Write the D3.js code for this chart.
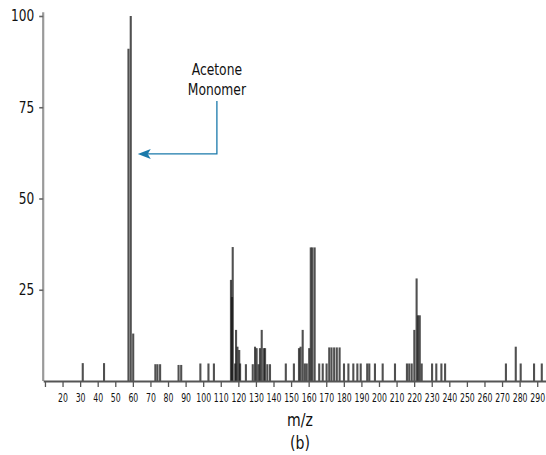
<!DOCTYPE html>
<html>
<head>
<meta charset="utf-8">
<script src="https://cdn.jsdelivr.net/npm/d3@7"></script>
<style>
  body { margin: 0; background: #fff; }
  svg { display: block; }
  text { font-family: "Liberation Sans Narrow", "DejaVu Sans Condensed", "Roboto", sans-serif; fill: #111; }
</style>
</head>
<body>
<svg id="chart" width="546" height="455"></svg>
<script>
// peaks: m/z and relative intensity (%)
var peakMz = [
  31.5, 43.6, 57.5, 58.8, 60.2, 72.8, 74, 75.5, 86, 87.5,
  98.4, 103, 106.1, 115.8, 116.4, 116.8, 118.2, 118.7, 119.5, 120.5, 121,
  124.3, 128.2, 129.5, 130.4, 131.5, 132.3, 133.3, 134.5, 135.2, 136.5, 138,
  147, 151.6, 154.5, 155.4, 156.6, 157.8, 158.9, 160.3, 161.2, 162.1, 163.4,
  166, 168, 170.2, 171.7, 173, 174.5, 176, 177.6,
  180.1, 182.6, 185.4, 187.7, 189.6, 193.3, 194.5, 197.7, 202.1, 209.1,
  215.9, 217.2, 218.6, 220.1, 221.4, 222.2, 223.2, 224.3,
  230.2, 232.6, 235.5, 237.6, 272.2, 277.8, 280.6, 288.2, 292.6
];
var peakIntensity = [
  4.9, 4.9, 91, 100, 13, 4.6, 4.6, 4.6, 4.4, 4.4,
  4.8, 4.8, 4.8, 27.7, 23, 36.7, 4.8, 14, 9.4, 8.5, 4.8,
  4.6, 4.6, 9.4, 9, 4.6, 9, 14, 9, 9, 4.6, 4.6,
  4.8, 4.8, 9, 9.4, 14, 4.8, 4.8, 9, 36.6, 36.6, 36.6,
  4.8, 4.8, 4.8, 9.2, 9.2, 9.2, 9.2, 9.2,
  4.8, 4.8, 4.8, 4.8, 4.8, 4.8, 4.8, 4.8, 4.8, 4.8,
  4.8, 4.8, 4.8, 14, 28.1, 18, 18, 4.8,
  4.8, 4.8, 4.8, 4.8, 4.8, 9.4, 4.8, 4.8, 4.8
];
var xTickValues = d3.range(10, 300, 10);
var yTickValues = [25, 50, 75, 100];
var annotationLines = ["Acetone", "Monomer"];

var svg = d3.select("#chart");

var x = d3.scaleLinear().domain([9, 295]).range([43.2, 546]);
var y = d3.scaleLinear().domain([0, 100]).range([381, 16]);

// y axis line (gray, goes slightly past 100)
svg.append("line")
  .attr("x1", x(9)).attr("x2", x(9))
  .attr("y1", y(0)).attr("y2", y(101))
  .attr("stroke", "#9a9a9a").attr("stroke-width", 2.2);

var yAxis = svg.append("g")
  .attr("transform", "translate(" + x(9) + ",0)")
  .call(d3.axisLeft(y).tickValues(yTickValues).tickSize(4).tickPadding(6));
yAxis.select(".domain").remove();
yAxis.selectAll(".tick line").attr("stroke", "#666").attr("stroke-width", 1.6);
yAxis.selectAll(".tick text")
  .style("font-size", "15px")
  .attr("fill", "#111")
  .attr("transform", "scale(0.9,1)")
  .attr("text-anchor", "end");

// peaks
svg.append("g")
  .selectAll("line")
  .data(peakMz)
  .enter().append("line")
  .attr("x1", function (d) { return x(d); })
  .attr("x2", function (d) { return x(d); })
  .attr("y1", y(0))
  .attr("y2", function (d, i) { return y(peakIntensity[i]); })
  .attr("stroke", "#151515")
  .attr("stroke-opacity", 0.75)
  .attr("stroke-width", 2.1);

// x axis
var xAxis = svg.append("g")
  .attr("transform", "translate(0," + y(0) + ")")
  .call(d3.axisBottom(x).tickValues(xTickValues).tickSize(6).tickSizeOuter(0)
    .tickFormat(function (d) { return d === 10 ? "" : d; }));
xAxis.select(".domain").attr("stroke", "#555").attr("stroke-width", 1.8);
xAxis.selectAll(".tick line").attr("stroke", "#555").attr("stroke-width", 1.3);
xAxis.selectAll(".tick text")
  .style("font-size", "12px")
  .attr("fill", "#111")
  .attr("y", 0)
  .attr("dy", 0)
  .attr("transform", "translate(0,21) scale(0.72,1)");

// axis title + panel label
svg.append("text")
  .attr("transform", "translate(300,426) scale(0.92,1)")
  .attr("text-anchor", "middle")
  .style("font-size", "17px")
  .text("m/z");
svg.append("text")
  .attr("transform", "translate(300,449) scale(0.92,1)")
  .attr("text-anchor", "middle")
  .style("font-size", "17px")
  .text("(b)");

// annotation
var arrowColor = "#1b7aab";
var elbowX = x(107.8), topY = y(76.7), armY = y(62.2), tipX = x(58.8) + 7;
svg.append("polyline")
  .attr("points", [[elbowX, topY], [elbowX, armY], [tipX + 10, armY]].map(function (p) { return p.join(","); }).join(" "))
  .attr("fill", "none")
  .attr("stroke", arrowColor)
  .attr("stroke-width", 1.3);
svg.append("path")
  .attr("d", "M" + tipX + "," + armY + " L" + (tipX + 13) + "," + (armY - 5) +
    " L" + (tipX + 10) + "," + armY + " L" + (tipX + 13) + "," + (armY + 5) + " Z")
  .attr("fill", arrowColor);

svg.append("g").selectAll("text")
  .data(annotationLines)
  .enter().append("text")
  .attr("transform", function (d, i) { return "translate(" + elbowX + "," + (75 + i * 20) + ") scale(0.83,1)"; })
  .attr("text-anchor", "middle")
  .style("font-size", "16.5px")
  .text(function (d) { return d; });
</script>
</body>
</html>
